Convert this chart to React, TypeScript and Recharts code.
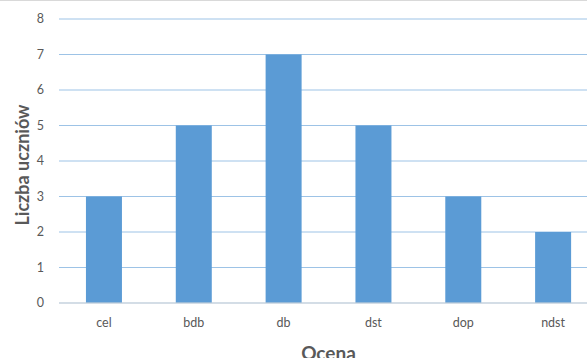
import React from "react";
import { BarChart, Bar, XAxis, YAxis, CartesianGrid } from "recharts";

const categories = ["cel", "bdb", "db", "dst", "dop", "ndst"];
const counts = [3, 5, 7, 5, 3, 2];
const yTicks = [0, 1, 2, 3, 4, 5, 6, 7, 8];
const xTitle = "Ocena";
const yTitle = "Liczba uczniów";

const data = categories.map((c, i) => ({ name: c, value: counts[i] }));

const font = "Lato, 'Liberation Sans', sans-serif";

const XTitle = (props: any) => {
  const vb = props.viewBox || {};
  const cx = vb.x + vb.width / 2;
  return (
    <text x={cx} y={360} textAnchor="middle" fill="#595959" fontSize={19} fontWeight="bold" fontFamily={font}>
      {xTitle}
    </text>
  );
};

const YTitle = () => (
  <text
    x={29}
    y={165}
    transform="rotate(-90, 29, 165)"
    textAnchor="middle"
    fill="#595959"
    fontSize={18}
    fontWeight="bold"
    fontFamily={font}
  >
    {yTitle}
  </text>
);

export default function App() {
  return (
    <div style={{ position: "absolute", left: 0, top: 0, width: 587, height: 358, overflow: "hidden", borderTop: "1px solid #d9d9d9", boxSizing: "border-box", background: "#fff" }}>
      <div style={{ position: "absolute", left: 0, top: -1 }}>
        <BarChart
          width={610}
          height={358}
          data={data}
          margin={{ top: 19, right: 12, bottom: 0, left: 0 }}
          barCategoryGap="30%"
        >
          <CartesianGrid vertical={false} stroke="#9DC3E6" strokeWidth={1} />
          <XAxis
            dataKey="name"
            height={55}
            tickLine={false}
            tickSize={0}
            tickMargin={15}
            axisLine={{ stroke: "#D9D9D9" }}
            tick={{ fill: "#595959", fontSize: 12.5, fontFamily: font }}
            label={<XTitle />}
          />
          <YAxis
            width={59}
            domain={[0, 8]}
            ticks={yTicks}
            interval={0}
            axisLine={false}
            tickLine={false}
            tickSize={0}
            tickMargin={15}
            tick={{ fill: "#595959", fontSize: 12.5, fontFamily: font }}
            label={<YTitle />}
          />
          <Bar dataKey="value" fill="#5B9BD5" isAnimationActive={false} />
        </BarChart>
      </div>
    </div>
  );
}
